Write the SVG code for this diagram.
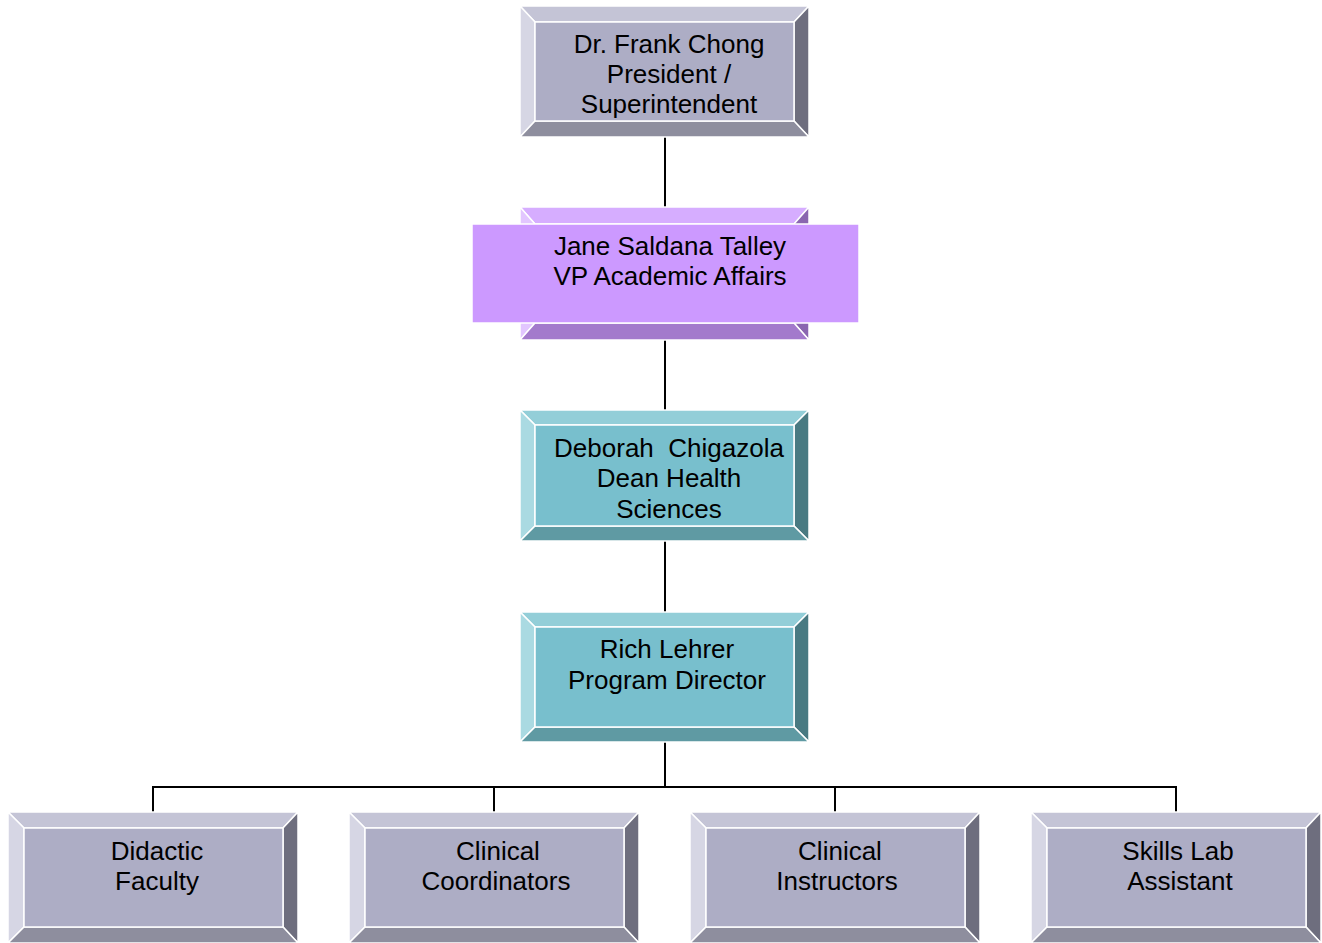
<svg xmlns="http://www.w3.org/2000/svg" width="1322" height="943" viewBox="0 0 1322 943">
<style>
text{font-family:"Liberation Sans",Arial,sans-serif;font-size:26px;fill:#000;text-anchor:middle}
.bv{stroke:#fff;stroke-width:1.5;stroke-linejoin:miter}
.gT{fill:#C4C4D6}.gL{fill:#D6D6E4}.gR{fill:#6E6E7E}.gB{fill:#8E8E9E}.gF{fill:#ADADC5}
.tT{fill:#93CED8}.tL{fill:#AADAE2}.tR{fill:#497A82}.tB{fill:#5F9AA3}.tF{fill:#78BFCD}
.pT{fill:#D6ADFF}.pL{fill:#E2C6FF}.pR{fill:#8A66B0}.pB{fill:#A37ACC}.pF{fill:#CC99FF}
.ln{stroke:#000;stroke-width:2;fill:none}
</style>
<g id="connectors">
<line class="ln" x1="665" y1="137" x2="665" y2="207"/>
<line class="ln" x1="665" y1="340" x2="665" y2="410"/>
<line class="ln" x1="665" y1="541" x2="665" y2="612"/>
<line class="ln" x1="665" y1="742" x2="665" y2="788" stroke-width="3"/>
<line class="ln" x1="153" y1="787" x2="1177" y2="787"/>
<line class="ln" x1="153" y1="786" x2="153" y2="812"/>
<line class="ln" x1="494" y1="786" x2="494" y2="812"/>
<line class="ln" x1="835" y1="786" x2="835" y2="812"/>
<line class="ln" x1="1176" y1="786" x2="1176" y2="812"/>
</g>
<g id="node-chong">
<polygon class="bv gT" points="520,6 809,6 794,22 535,22"/>
<polygon class="bv gL" points="520,6 535,22 535,121 520,137"/>
<polygon class="bv gR" points="809,6 809,137 794,121 794,22"/>
<polygon class="bv gB" points="520,137 535,121 794,121 809,137"/>
<rect class="bv gF" x="535" y="22" width="259" height="99"/>
<text x="669" y="53">Dr. Frank Chong</text>
<text x="669" y="83">President /</text>
<text x="669" y="113">Superintendent</text>
</g>
<g id="node-talley">
<polygon class="bv pT" points="520,207 809,207 794,224 535,224"/>
<polygon class="bv pL" points="520,207 535,224 535,323 520,340"/>
<polygon class="bv pR" points="809,207 809,340 794,323 794,224"/>
<polygon class="bv pB" points="520,340 535,323 794,323 809,340"/>
<rect class="pF" x="472" y="224" width="387" height="99" stroke="#fff" stroke-width="1.5"/>
<text x="670" y="255">Jane Saldana Talley</text>
<text x="670" y="285">VP Academic Affairs</text>
</g>
<g id="node-chigazola">
<polygon class="bv tT" points="520,410 809,410 794,425 535,425"/>
<polygon class="bv tL" points="520,410 535,425 535,526 520,541"/>
<polygon class="bv tR" points="809,410 809,541 794,526 794,425"/>
<polygon class="bv tB" points="520,541 535,526 794,526 809,541"/>
<rect class="bv tF" x="535" y="425" width="259" height="101"/>
<text x="669" y="457" xml:space="preserve">Deborah  Chigazola</text>
<text x="669" y="487">Dean Health</text>
<text x="669" y="518">Sciences</text>
</g>
<g id="node-lehrer">
<polygon class="bv tT" points="520,612 809,612 794,627 535,627"/>
<polygon class="bv tL" points="520,612 535,627 535,727 520,742"/>
<polygon class="bv tR" points="809,612 809,742 794,727 794,627"/>
<polygon class="bv tB" points="520,742 535,727 794,727 809,742"/>
<rect class="bv tF" x="535" y="627" width="259" height="100"/>
<text x="667" y="658">Rich Lehrer</text>
<text x="667" y="689">Program Director</text>
</g>
<g id="node-didactic">
<polygon class="bv gT" points="8,812 298,812 283,828 24,828"/>
<polygon class="bv gL" points="8,812 24,828 24,927 8,943"/>
<polygon class="bv gR" points="298,812 298,943 283,927 283,828"/>
<polygon class="bv gB" points="8,943 24,927 283,927 298,943"/>
<rect class="bv gF" x="24" y="828" width="259" height="99"/>
<text x="157" y="860">Didactic</text>
<text x="157" y="890">Faculty</text>
</g>
<g id="node-coordinators">
<polygon class="bv gT" points="349,812 639,812 624,828 365,828"/>
<polygon class="bv gL" points="349,812 365,828 365,927 349,943"/>
<polygon class="bv gR" points="639,812 639,943 624,927 624,828"/>
<polygon class="bv gB" points="349,943 365,927 624,927 639,943"/>
<rect class="bv gF" x="365" y="828" width="259" height="99"/>
<text x="498" y="860">Clinical</text>
<text x="496" y="890">Coordinators</text>
</g>
<g id="node-instructors">
<polygon class="bv gT" points="690,812 980,812 965,828 706,828"/>
<polygon class="bv gL" points="690,812 706,828 706,927 690,943"/>
<polygon class="bv gR" points="980,812 980,943 965,927 965,828"/>
<polygon class="bv gB" points="690,943 706,927 965,927 980,943"/>
<rect class="bv gF" x="706" y="828" width="259" height="99"/>
<text x="840" y="860">Clinical</text>
<text x="837" y="890">Instructors</text>
</g>
<g id="node-skills">
<polygon class="bv gT" points="1031,812 1321,812 1306,828 1047,828"/>
<polygon class="bv gL" points="1031,812 1047,828 1047,927 1031,943"/>
<polygon class="bv gR" points="1321,812 1321,943 1306,927 1306,828"/>
<polygon class="bv gB" points="1031,943 1047,927 1306,927 1321,943"/>
<rect class="bv gF" x="1047" y="828" width="259" height="99"/>
<text x="1178" y="860">Skills Lab</text>
<text x="1180" y="890">Assistant</text>
</g>
</svg>
